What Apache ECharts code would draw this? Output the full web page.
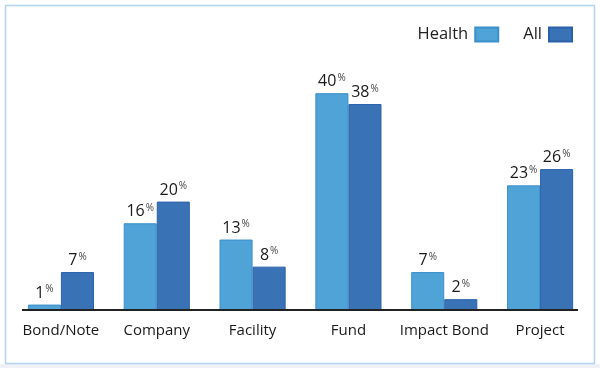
<!DOCTYPE html>
<html><head><meta charset="utf-8">
<script src="https://cdn.jsdelivr.net/npm/echarts@6/dist/echarts.min.js"></script>
<style>html,body{margin:0;padding:0;background:#fff}#c{width:600px;height:368px}</style>
</head><body><div id="c"></div>
<script>
var categories = ['Bond/Note', 'Company', 'Facility', 'Fund', 'Impact Bond', 'Project'];
var healthValues = [1, 16, 13, 40, 7, 23];
var allValues = [7, 20, 8, 38, 2, 26];
var seriesNames = ['Health', 'All'];

var chart = echarts.init(document.getElementById('c'));
var FONT = '"Open Sans", "Noto Sans", sans-serif';
function lbl() {
  return {
    show: true, position: 'top', distance: 3,
    formatter: function (p) { return '{a|' + p.value + '}{b|%}'; },
    rich: {
      a: { fontSize: 16, color: '#1a1a1a', fontFamily: FONT },
      b: { fontSize: 10, color: '#444', fontFamily: FONT, verticalAlign: 'top', padding: [0, 0, 7, 1] }
    }
  };
}
chart.setOption({
  animation: false,
  backgroundColor: '#fff',
  graphic: [
    { type: 'rect', shape: { x: 0, y: 364, width: 600, height: 4 }, style: { fill: '#eef2f7' }, silent: true },
    { type: 'rect', shape: { x: 5.5, y: 5.5, width: 589, height: 358 }, style: { fill: 'none', stroke: '#b3d3ee', lineWidth: 1.5 }, silent: true },
    { type: 'line', shape: { x1: 22, y1: 310, x2: 578, y2: 310 }, style: { stroke: '#222', lineWidth: 2 }, z: 10, silent: true }
  ],
  legend: {
    top: 21, right: 22, align: 'right', icon: 'rect', itemWidth: 23, itemHeight: 14, itemGap: 24,
    textStyle: { fontSize: 16.5, color: '#222', fontFamily: FONT, padding: [0, 2, 0, 0] },
    data: seriesNames
  },
  grid: { left: 13, right: 12, top: 39, bottom: 58 },
  xAxis: {
    type: 'category', data: categories,
    axisLine: { show: false }, axisTick: { show: false },
    axisLabel: { interval: 0, fontSize: 15, color: '#1a1a1a', fontFamily: FONT, margin: 13 }
  },
  yAxis: { type: 'value', min: 0, max: 50, show: false, splitLine: { show: false } },
  series: [
    { name: seriesNames[0], type: 'bar', data: healthValues, barGap: '0%', barCategoryGap: '31%',
      itemStyle: { color: '#4fa3d6', borderColor: '#3a8fcc', borderWidth: 1 }, label: lbl() },
    { name: seriesNames[1], type: 'bar', data: allValues, barGap: '0%', barCategoryGap: '31%',
      itemStyle: { color: '#3a72b6', borderColor: '#2a61ab', borderWidth: 1 }, label: lbl() }
  ]
});
</script></body></html>
